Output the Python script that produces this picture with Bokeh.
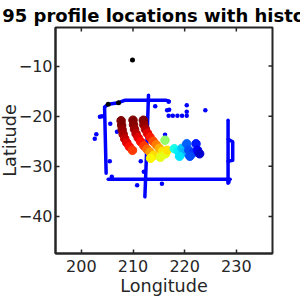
from math import pi
from bokeh.plotting import figure
from bokeh.models import Range1d, FixedTicker, ColumnDataSource, LinearColorMapper, Title
from bokeh.embed import file_html
from bokeh.resources import INLINE

TITLE = "95 profile locations with history"
X_TICKS = [200, 210, 220, 230]
Y_TICKS = [-40, -30, -20, -10]
X_LIM = (195, 237)
Y_LIM = (-47.4, -2.3)

# ship tracks (dense profile lines), lon/lat vertices
track_lon = [
    [205.2, 204.5, 204.8],
    [205.2, 207.2, 208.5, 216.3, 217.0],
    [213.0, 212.6, 212.3],
    [205.2, 228.8],
    [228.4, 228.4],
    [228.4, 229.3, 229.3, 228.4],
]
track_lat = [
    [-17.6, -18.2, -31.4],
    [-17.6, -17.3, -16.8, -16.8, -17.0],
    [-15.8, -28.0, -36.1],
    [-32.6, -32.6],
    [-20.8, -33.4],
    [-24.6, -25.1, -28.8, -29.0],
]

# scattered single profiles
dot_lon = [204.0, 203.6, 205.6, 206.9, 202.9, 202.6, 214.3, 216.9, 216.6, 217.0,
           220.4, 220.4, 220.4, 216.9, 217.7, 218.6, 219.5, 224.0, 216.2, 205.5,
           211.5, 212.1, 205.9, 210.8, 215.6, 228.5]
dot_lat = [-20.0, -20.1, -21.5, -23.1, -23.6, -24.5, -18.0, -17.1, -18.8, -18.7,
           -17.8, -19.1, -19.9, -19.9, -19.9, -19.9, -19.9, -18.8, -23.7, -29.0,
           -29.0, -31.1, -32.1, -33.8, -33.5, -33.1]

# black profiles
blk_lon = [209.9, 205.2, 207.2]
blk_lat = [-8.8, -17.6, -17.3]

# coloured profiles (value 0..1)
col_lon = [207.7, 207.8, 207.9, 208.1, 208.4, 208.8, 209.3, 209.9,
           210.0, 210.1, 210.3, 210.6, 211.0, 211.5, 212.1, 212.7, 213.3, 214.0,
           212.0, 212.1, 212.4, 212.8, 213.3, 213.9, 214.5, 215.1, 215.7, 216.3,
           213.4, 215.3, 216.2, 216.6,
           218.0, 218.8, 219.5, 220.0, 219.0,
           220.4, 220.8, 221.5, 222.2, 222.5, 222.9, 221.0]
col_lat = [-20.9, -21.8, -22.7, -23.6, -24.5, -25.3, -26.1, -26.8,
           -20.8, -21.7, -22.6, -23.5, -24.3, -25.1, -25.9, -26.6, -27.2, -27.8,
           -20.8, -21.7, -22.6, -23.4, -24.2, -25.0, -25.7, -26.4, -27.0, -27.5,
           -28.4, -28.2, -24.8, -26.8,
           -26.5, -27.0, -26.4, -27.2, -28.0,
           -25.5, -26.8, -27.4, -25.5, -26.8, -27.5, -28.0]
col_val = [1.0, 1.0, 0.98, 0.96, 0.93, 0.9, 0.86, 0.82,
           1.0, 0.99, 0.97, 0.94, 0.9, 0.86, 0.82, 0.77, 0.72, 0.66,
           1.0, 0.98, 0.95, 0.9, 0.85, 0.8, 0.75, 0.7, 0.65, 0.6,
           0.63, 0.6, 0.52, 0.65,
           0.4, 0.36, 0.32, 0.3, 0.35,
           0.22, 0.2, 0.18, 0.15, 0.12, 0.08, 0.2]


def jet(n=256):
    out = []
    for i in range(n):
        t = i / (n - 1)
        r = min(max(1.5 - abs(4 * t - 3), 0), 1)
        g = min(max(1.5 - abs(4 * t - 2), 0), 1)
        b = min(max(1.5 - abs(4 * t - 1), 0), 1)
        out.append("#%02x%02x%02x" % (int(r * 255), int(g * 255), int(b * 255)))
    return out


FONT = "DejaVu Sans"
INK = "#262626"

p = figure(width=300, height=300, output_backend="svg", toolbar_location=None,
           x_range=Range1d(*X_LIM), y_range=Range1d(*Y_LIM),
           min_border_left=55, min_border_right=28, min_border_top=27, min_border_bottom=47,
           title=TITLE)
p.title.align = "center"
p.title.text_font = FONT
p.title.text_font_size = "18px"
p.title.text_font_style = "bold"
p.title.text_color = "#000000"
p.title.standoff = 4
p.grid.visible = False
p.outline_line_color = INK
p.outline_line_width = 2

for ax in (p.xaxis[0], p.yaxis[0]):
    ax.major_label_text_font = FONT
    ax.major_label_text_font_size = "16px"
    ax.major_label_text_color = INK
    ax.axis_label_text_font = FONT
    ax.axis_label_text_font_size = "17.6px"
    ax.axis_label_text_font_style = "normal"
    ax.axis_label_text_color = INK
    ax.axis_line_color = INK
    ax.axis_line_width = 2
    ax.major_tick_in = 4
    ax.major_tick_out = 0
    ax.major_tick_line_color = INK
    ax.major_tick_line_width = 1.5
    ax.minor_tick_line_color = None

p.xaxis[0].ticker = FixedTicker(ticks=X_TICKS)
p.yaxis[0].ticker = FixedTicker(ticks=Y_TICKS)
p.xaxis[0].major_label_overrides = {t: str(t) for t in X_TICKS}
p.yaxis[0].major_label_overrides = {t: str(t).replace("-", "\u2212") for t in Y_TICKS}
p.xaxis[0].axis_label = "Longitude"
p.xaxis[0].major_label_standoff = 6
p.yaxis[0].major_label_standoff = 3
p.xaxis[0].axis_label_standoff = 1

# y-axis title in the left panel
p.add_layout(Title(text="Latitude", align="center", standoff=-9,
                   text_font=FONT, text_font_size="17.6px", text_font_style="normal",
                   text_color=INK), "left")

# inward tick marks on the top and right box edges (clipped to the frame)
p.scatter(X_TICKS, [Y_LIM[1]] * len(X_TICKS), marker="dash", angle=pi / 2, size=8,
          line_color=INK, line_width=1.5)
p.scatter([X_LIM[1]] * len(Y_TICKS), Y_TICKS, marker="dash", size=8,
          line_color=INK, line_width=1.5)

p.multi_line(xs=track_lon, ys=track_lat, line_color="#0000ff", line_width=3.5,
             line_cap="round", line_join="round")
p.scatter(dot_lon, dot_lat, size=4.5, fill_color="#0000ff", line_color=None)

mapper = LinearColorMapper(palette=jet(), low=0, high=1)
src = ColumnDataSource(dict(x=col_lon, y=col_lat, v=col_val))
p.scatter("x", "y", source=src, size=8.5,
          fill_color={"field": "v", "transform": mapper},
          line_color={"field": "v", "transform": mapper})

p.scatter(blk_lon, blk_lat, size=5, fill_color="#000000", line_color=None)

open("out.html", "w").write(file_html(p, INLINE))
